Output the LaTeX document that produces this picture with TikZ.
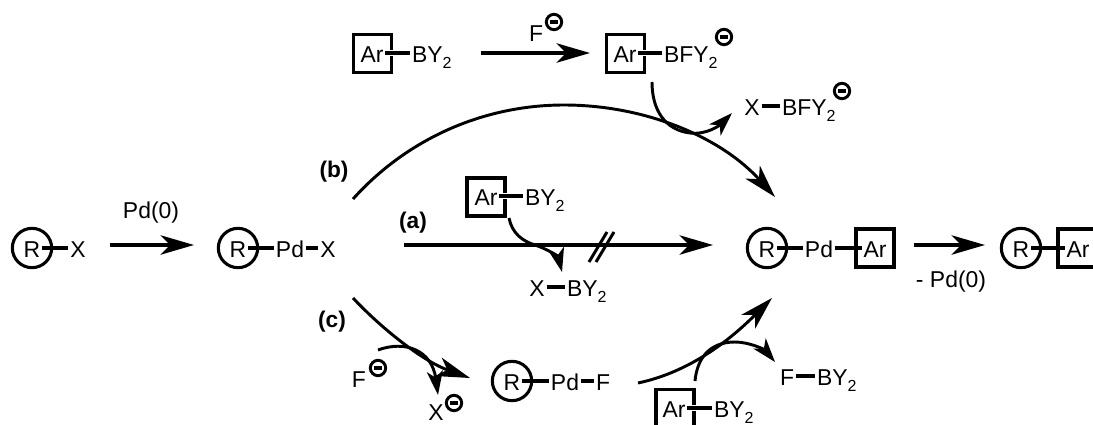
\documentclass[tikz,border=0pt]{standalone}
\usepackage{fontspec}
\setmainfont{Liberation Sans}
\usetikzlibrary{arrows.meta}
\newcommand{\subtwo}{\raisebox{-4.5pt}{\fontsize{12}{13}\selectfont 2}}
\tikzset{
  atom/.style={inner xsep=1.3pt,inner ysep=0pt,text height=13.5pt,text depth=0pt,font=\fontsize{17.2}{19}\selectfont},
  lab/.style={inner sep=0pt,font=\fontsize{17.2}{19}\selectfont},
  boldlab/.style={inner sep=0pt,font=\fontsize{17}{19}\selectfont\bfseries},
  ring/.style={circle,draw,line width=2.3pt,minimum size=29.5pt,inner sep=0pt},
  sq/.style={rectangle,draw,line width=2.3pt,minimum size=28.5pt,inner sep=0pt},
  chg/.style={circle,draw,line width=2.2pt,minimum size=11.5pt,inner sep=0pt},
  bond/.style={line width=2.3pt},
  hbond/.style={line width=2.3pt,preaction={draw,white,line width=5pt,shorten <=3pt,shorten >=3pt}},
  rxn/.style={line width=2.6pt,-{Stealth[length=25pt,width=14.5pt,inset=7pt]}},
  arc/.style={line width=2.2pt,-{Stealth[length=25pt,width=14.5pt,inset=7pt]}},
  curvy/.style={line width=2.2pt,-{Stealth[length=18pt,width=12pt,inset=5pt]}},
  slash/.style={line width=2.2pt}
}
\newcommand{\minus}{\rule{6.5pt}{2.3pt}}
\begin{document}
\begin{tikzpicture}[x=0.75pt,y=-0.75pt]
\clip (0,0) rectangle (1093,425);
\fill[white] (0,0) rectangle (1093,425);
% coordinates
\coordinate (a1s) at (110,245); \coordinate (a1e) at (194,245);
\coordinate (a2s) at (481,53);  \coordinate (a2e) at (590,53);
\coordinate (a3s) at (404,245); \coordinate (a3e) at (713,245);
\coordinate (a4s) at (914,245); \coordinate (a4e) at (985,245);
\coordinate (bs) at (353,199); \coordinate (bt) at (564,105); \coordinate (be) at (775,197);
\coordinate (cs) at (353,298); \coordinate (ce) at (470,378);
\coordinate (ds) at (638,383); \coordinate (de) at (772,298);
\coordinate (u1s) at (652,82); \coordinate (u1m) at (690,133); \coordinate (u1e) at (732,113);
\coordinate (u2s) at (509,218); \coordinate (u2m) at (535,245); \coordinate (u2e) at (562,272);
\coordinate (u3s) at (378,350); \coordinate (u3e) at (438,395);
\coordinate (u4s) at (695,381); \coordinate (u4m) at (735,342); \coordinate (u4e) at (775,362);
\coordinate (h1a) at (589,262); \coordinate (h1b) at (607,232);
\coordinate (h2a) at (596,262); \coordinate (h2b) at (614,232);
% rings and squares
\node[ring] (c1) at (32,248) {};
\node[ring] (c2) at (238,248) {};
\node[ring] (c3) at (512,381) {};
\node[ring] (c4) at (767,248) {};
\node[ring] (c5) at (1021,248) {};
\node[sq] (s1) at (372.5,53.5) {};
\node[sq] (s2) at (625.5,53.5) {};
\node[sq] (s3) at (486,197) {};
\node[sq] (s4) at (675,408.5) {};
\node[sq] (s5) at (875,248) {};
\node[sq] (s6) at (1077,248) {};
% R-X
\node[atom] (r1) at (32,248) {R};
\node[atom] (x1) at (78,248) {X};
% R-Pd-X
\node[atom] (r2) at (238,248) {R};
\node[atom] (pd2) at (290,248) {Pd};
\node[atom] (x2) at (328,248) {X};
% top
\node[atom] (ar1) at (372,53) {Ar};
\node[atom,anchor=west] (b1) at (410,53) {BY\subtwo};
\node[atom] (ar2) at (625,53) {Ar};
\node[atom,anchor=west] (b2) at (662,53) {BFY\subtwo};
\node[lab] (f1) at (536,34) {F};
\node[chg] (n1) at (554,22) {\minus};
\node[chg] (n2) at (724,37) {\minus};
\node[atom] (x3) at (752,106) {X};
\node[atom,anchor=west] (b3) at (780,106) {BFY\subtwo};
\node[chg] (n3) at (842,91) {\minus};
% middle
\node[atom] (ar3) at (486,196) {Ar};
\node[atom,anchor=west] (b4) at (523,196) {BY\subtwo};
\node[atom] (x4) at (537,287) {X};
\node[atom,anchor=west] (b5) at (565,287) {BY\subtwo};
% lower
\node[atom] (r3) at (512,381) {R};
\node[atom] (pd3) at (565,381) {Pd};
\node[atom] (f3) at (603,381) {F};
\node[lab] (f2) at (359,380) {F};
\node[chg] (n4) at (378,368) {\minus};
\node[lab] (x5) at (436,413) {X};
\node[chg] (n5) at (454,403) {\minus};
\node[atom] (ar4) at (674,408) {Ar};
\node[atom,anchor=west] (b6) at (712,408) {BY\subtwo};
\node[atom] (f4) at (787,376) {F};
\node[atom,anchor=west] (b7) at (815,376) {BY\subtwo};
% product
\node[atom] (r4) at (767,248) {R};
\node[atom] (pd4) at (819,248) {Pd};
\node[atom] (ar5) at (875,248) {Ar};
\node[atom] (r5) at (1021,248) {R};
\node[atom] (ar6) at (1078,248) {Ar};
% labels
\node[lab] (l1) at (151,213) {Pd(0)};
\node[lab] (l2) at (951,282) {- Pd(0)};
\node[boldlab] (la) at (413,223) {(a)};
\node[boldlab] (lb) at (334,172) {(b)};
\node[boldlab] (lc) at (332,322) {(c)};
% bonds
\draw[bond] (r1) -- (x1);
\draw[bond] (r2) -- (pd2);
\draw[bond] (pd2) -- (x2);
\draw[hbond] (ar1) -- (b1);
\draw[hbond] (ar2) -- (b2);
\draw[bond] (x3) -- (b3);
\draw[hbond] (ar3) -- (b4);
\draw[bond] (x4) -- (b5);
\draw[bond] (r3) -- (pd3);
\draw[bond] (pd3) -- (f3);
\draw[hbond] (ar4) -- (b6);
\draw[bond] (f4) -- (b7);
\draw[bond] (r4) -- (pd4);
\draw[bond] (pd4) -- (ar5);
\draw[bond] (r5) -- (ar6);
% arrows
\draw[rxn] (a1s) -- (a1e);
\draw[rxn] (a2s) -- (a2e);
\draw[rxn] (a3s) -- (a3e);
\draw[rxn] (a4s) -- (a4e);
\draw[slash] (h1a) -- (h1b);
\draw[slash] (h2a) -- (h2b);
\draw[arc] (bs) .. controls (407,139) and (483,105) .. (bt) .. controls (645,105) and (721,137) .. (be);
\draw[arc] (cs) .. controls (385,332) and (425,362) .. (ce);
\draw[arc] (ds) .. controls (690,372) and (730,340) .. (de);
\draw[curvy] (u1s) .. controls (652,110) and (665,130) .. (u1m) .. controls (707,135) and (720,125) .. (u1e);
\draw[curvy] (u2s) .. controls (512,233) and (522,241) .. (u2m) .. controls (547,249) and (558,256) .. (u2e);
\draw[curvy] (u3s) .. controls (405,340) and (432,350) .. (u3e);
\draw[curvy] (u4s) .. controls (697,360) and (708,342) .. (u4m) .. controls (750,342) and (765,350) .. (u4e);
\end{tikzpicture}
\end{document}
